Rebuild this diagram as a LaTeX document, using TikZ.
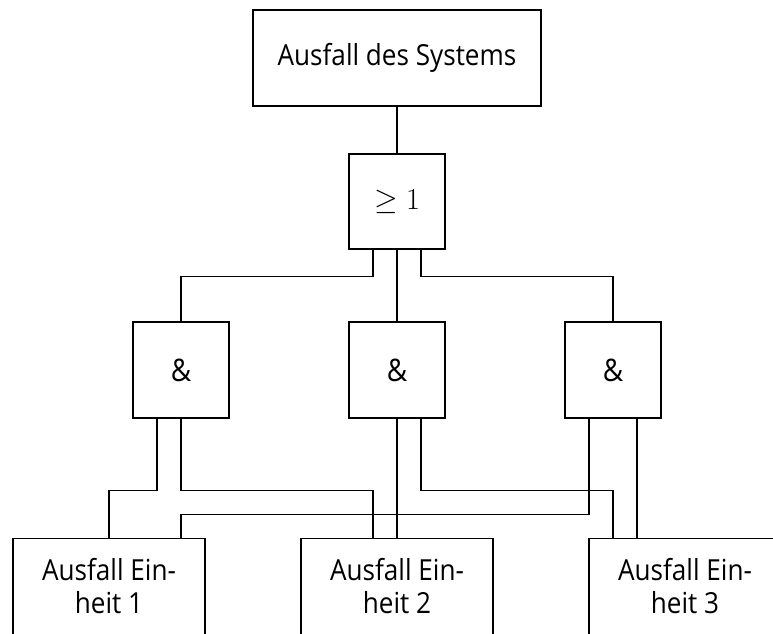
\documentclass[tikz,border=0pt]{standalone}
\usepackage{fontspec}
\setmainfont[FakeStretch=0.9]{Open Sans}
\usetikzlibrary{calc}
\begin{document}
\begin{tikzpicture}[x=1pt,y=-1pt,
  every node/.style={draw, line width=1.4pt, inner sep=0pt},
  wire/.style={line width=1.4pt},
  topbox/.style={minimum width=288pt, minimum height=96pt, font=\fontsize{29}{33}\selectfont},
  gate/.style={minimum width=96pt, minimum height=96pt, font=\fontsize{31}{35}\selectfont},
  unitbox/.style={minimum width=192pt, minimum height=102pt, align=center, anchor=north,
    font=\fontsize{29}{33}\selectfont}]
\clip (0,0) rectangle (773,633);
\useasboundingbox (0,0) rectangle (773,633);

\node[topbox] (sys) at (397,58) {Ausfall des Systems};
\node[gate, minimum height=95pt, font=\fontsize{24}{28}\selectfont] (or) at (397,201.5)
  {\scalebox{1.22}{$\geq 1$}};
\node[gate] (and1) at (181,370) {\&};
\node[gate] (and2) at (397,370) {\&};
\node[gate] (and3) at (613,370) {\&};
\node[unitbox] (u1) at (109,538) {Ausfall Ein-\\heit 1\vphantom{p}};
\node[unitbox] (u2) at (397,538) {Ausfall Ein-\\heit 2\vphantom{p}};
\node[unitbox] (u3) at (685,538) {Ausfall Ein-\\heit 3\vphantom{p}};

% OR gate feeding the top event
\draw[wire] (sys.south) -- (or.north);
\draw[wire] ($(or.south)+(-24,0)$) -- ++(0,27) -| (and1.north);
\draw[wire] (or.south) -- (and2.north);
\draw[wire] ($(or.south)+(24,0)$) -- ++(0,27) -| (and3.north);

% AND gate inputs from the units
\draw[wire] ($(and1.south)+(-24,0)$) -- ++(0,72) -| (u1.north);
\draw[wire] (and1.south) -- ++(0,72) -| ($(u2.north)+(-24,0)$);
\draw[wire] (and2.south) -- (u2.north);
\draw[wire] ($(and2.south)+(24,0)$) -- ++(0,72) -| ($(u3.north)+(-72,0)$);
\draw[wire] ($(and3.south)+(-24,0)$) -- ++(0,96) -| ($(u1.north)+(72,0)$);
\draw[wire] ($(and3.south)+(24,0)$) -- ($(u3.north)+(-48,0)$);
\end{tikzpicture}
\end{document}
